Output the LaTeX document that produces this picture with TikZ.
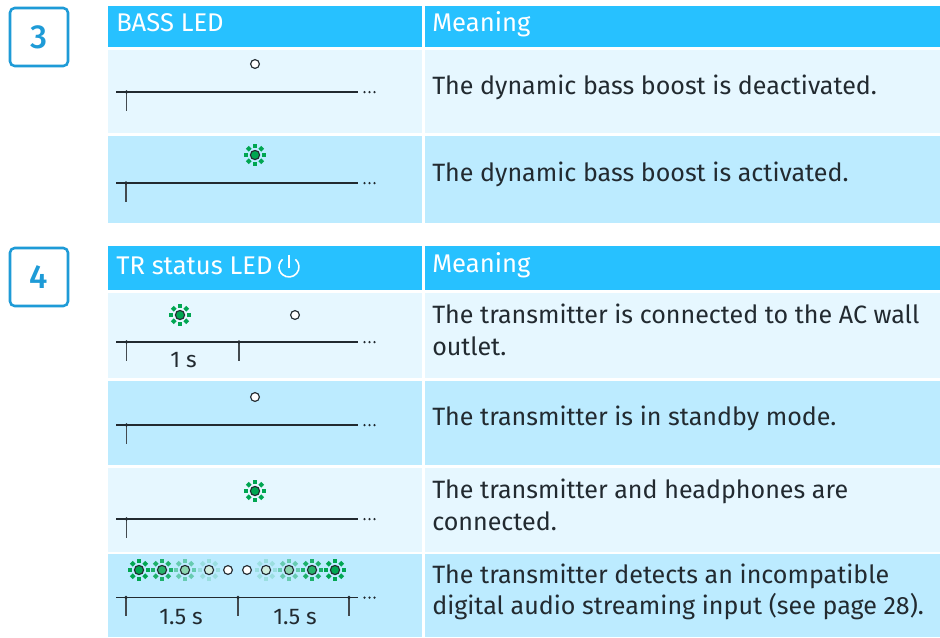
\documentclass[tikz,border=0pt]{standalone}
\usepackage{fontspec}
\setmainfont{Fira Sans}
\newfontfamily\badgefont{Fira Sans Medium}
\definecolor{hdr}{HTML}{27C1FF}
\definecolor{rowa}{HTML}{E6F7FF}
\definecolor{rowb}{HTML}{BCEBFF}
\definecolor{badge}{HTML}{1E9BD7}
\definecolor{ink}{HTML}{222A30}
\definecolor{ledg}{HTML}{00A651}
\tikzset{
  x=0.75pt,y=-0.75pt,
  bodytext/.style={anchor=west,inner sep=0pt,text=ink,font=\fontsize{18.8pt}{23.5pt}\selectfont,align=left},
  headtext/.style={anchor=base west,inner sep=0pt,text=white,font=\fontsize{19.2pt}{22pt}\selectfont},
  timetext/.style={anchor=center,inner sep=0pt,text=ink,font=\fontsize{17pt}{18pt}\selectfont},
  badgebox/.style={draw=badge,line width=1.9pt,rounded corners=3.5pt,fill=white,minimum size=43.5pt,inner sep=0pt,text=badge,font=\fontsize{25pt}{26pt}\badgefont},
  axisline/.style={draw=ink,line width=0.8pt},
  tickline/.style={draw=ink!85,line width=0.8pt},
  ledring/.style={draw=ink,line width=0.85pt},
}
\newcommand{\timeline}[2]{%
  \draw[axisline] (116,#1) -- (358,#1);
  \foreach \tx in {#2}{%
    \draw[tickline] (\tx,#1) -- (\tx,#1+18.5);
    \fill[ink] (\tx,#1) circle[radius=1.9];
  }
  \foreach \dx in {364.5,369.5,374.5}{\fill[ink] (\dx,#1) circle[radius=1.25];}
}
\newcommand{\ledoff}[2]{\draw[ledring,fill=white] (#1,#2) circle[radius=4.4];}
\newcommand{\ledon}[3]{%
  \begin{scope}[shift={(#1,#2)}]
    \foreach \ang in {0,45,...,315}{%
      \fill[ledg,opacity=#3,rotate=\ang] (6.8,-2) rectangle (10.8,2);
    }
    \fill[white] (0,0) circle[radius=4.6];
    \fill[ledg,opacity=#3] (0,0) circle[radius=4.6];
    \draw[ledring] (0,0) circle[radius=4.6];
  \end{scope}%
}
\begin{document}
\begin{tikzpicture}
\useasboundingbox (0,0) rectangle (940,637);
\fill[white] (0,0) rectangle (940,637);
\node[badgebox] (badgeA) at (39,37) {3};
\node[badgebox] (badgeB) at (39,277) {4};
\fill[hdr] (108,6) rectangle (422,47);
\fill[hdr] (425,6) rectangle (940,47);
\fill[rowa] (108,50) rectangle (422,133);
\fill[rowa] (425,50) rectangle (940,133);
\fill[rowb] (108,136) rectangle (422,223);
\fill[rowb] (425,136) rectangle (940,223);
\fill[hdr] (108,246) rectangle (422,290);
\fill[hdr] (425,246) rectangle (940,290);
\fill[rowa] (108,293) rectangle (422,378);
\fill[rowa] (425,293) rectangle (940,378);
\fill[rowb] (108,381) rectangle (422,465);
\fill[rowb] (425,381) rectangle (940,465);
\fill[rowa] (108,468) rectangle (422,552);
\fill[rowa] (425,468) rectangle (940,552);
\fill[rowb] (108,554) rectangle (422,637);
\fill[rowb] (425,554) rectangle (940,637);
\node[headtext] (h3a) at (116,31) {BASS LED};
\node[headtext] (h3b) at (432,31) {Meaning};
\node[headtext] (h4a) at (116,274) {TR status LED};
\node[headtext] (h4b) at (432,272) {Meaning};
\draw[white,line width=1.2pt] (295.4,259.3) arc[start angle=-50,end angle=230,radius=10];
\draw[white,line width=1.2pt] (289,254.5) -- (289,268);
\node[bodytext] (t1) at (432,87) {The dynamic bass boost is deactivated.};
\node[bodytext] (t2) at (432,174) {The dynamic bass boost is activated.};
\node[bodytext] (t3) at (432,330) {The transmitter is connected to the AC wall\\outlet.};
\node[bodytext] (t4) at (432,418) {The transmitter is in standby mode.};
\node[bodytext] (t5) at (432,505) {The transmitter and headphones are\\connected.};
\node[bodytext] (t6) at (432,592) {The transmitter detects an incompatible\\digital audio streaming input (see page 28).};
\ledoff{255}{64}
\timeline{92}{126.5}
\ledon{255}{155}{1}
\timeline{183}{126}
\ledon{180}{315}{1}
\ledoff{295}{315}
\timeline{342}{126.5,239}
\node[timetext] (l1) at (183.5,360) {1 s};
\ledoff{255}{397}
\timeline{425}{126.5}
\ledon{255}{491}{1}
\timeline{519}{126.5}
\ledon{139}{570}{1}
\ledon{162}{570}{0.85}
\ledon{185}{570}{0.45}
\ledon{209}{570}{0.18}
\ledoff{228}{570}
\ledoff{247}{570}
\ledon{266}{570}{0.18}
\ledon{289}{570}{0.45}
\ledon{312}{570}{0.85}
\ledon{335}{570}{1}
\timeline{597.5}{126,238,349}
\node[timetext] (l2) at (181,617) {1.5 s};
\node[timetext] (l3) at (295,617) {1.5 s};
\end{tikzpicture}
\end{document}
